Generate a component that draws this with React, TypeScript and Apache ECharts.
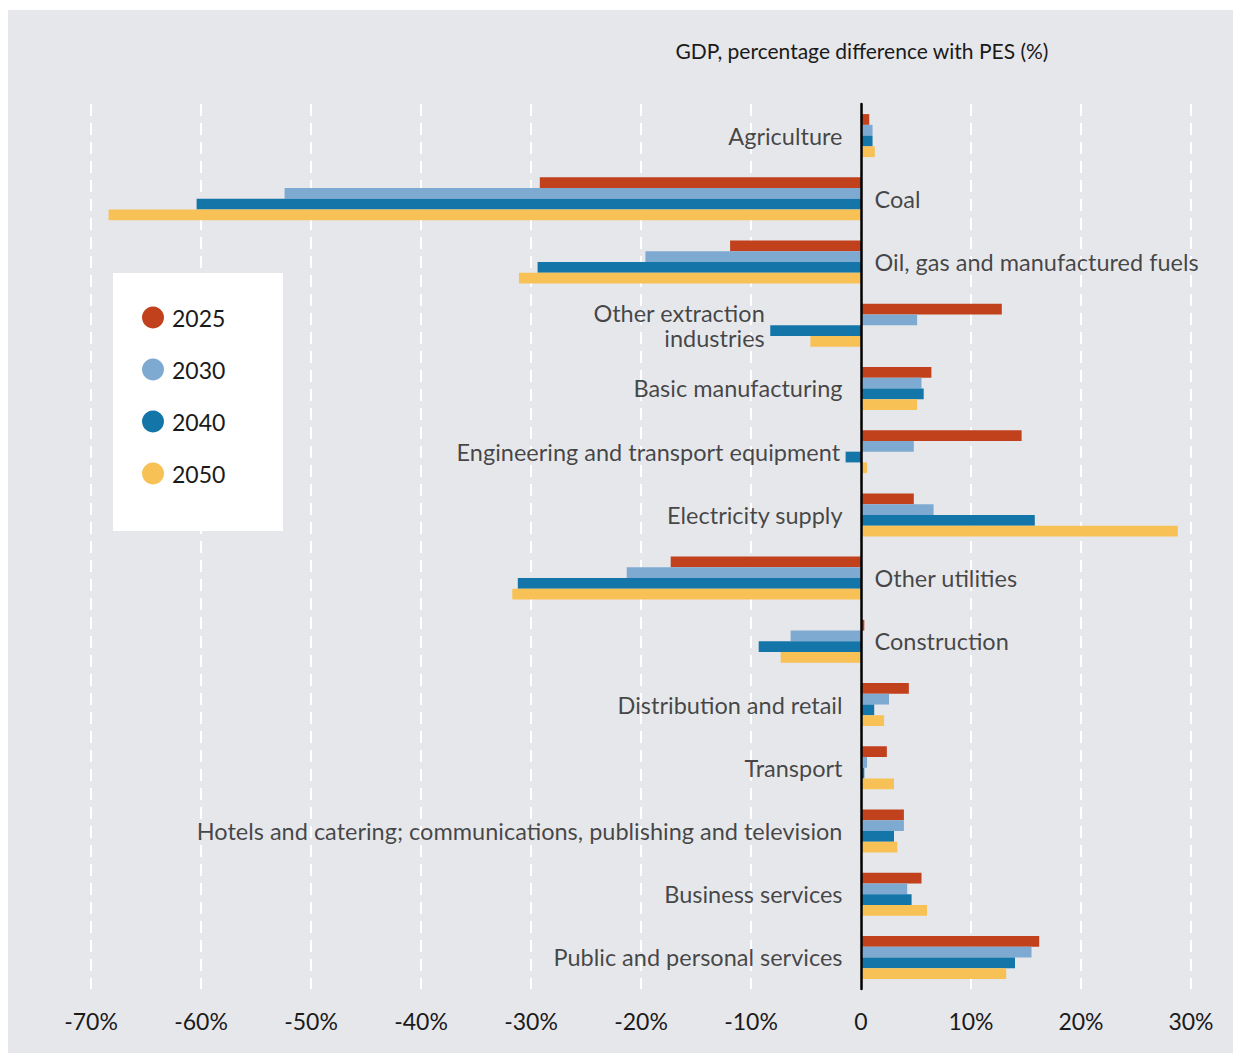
import React, { useEffect, useRef } from "react";
import * as echarts from "echarts";

const categories = [
  "Agriculture",
  "Coal",
  "Oil, gas and manufactured fuels",
  "Other extraction\nindustries",
  "Basic manufacturing",
  "Engineering and transport equipment",
  "Electricity supply",
  "Other utilities",
  "Construction",
  "Distribution and retail",
  "Transport",
  "Hotels and catering; communications, publishing and television",
  "Business services",
  "Public and personal services",
];

const seriesNames = ["2025", "2030", "2040", "2050"];

const v2025 = [0.75, -29.2, -11.9, 12.8, 6.4, 14.6, 4.8, -17.3, 0.3, 4.35, 2.35, 3.9, 5.5, 16.2];
const v2030 = [1.05, -52.4, -19.6, 5.1, 5.5, 4.8, 6.6, -21.3, -6.4, 2.55, 0.55, 3.9, 4.2, 15.5];
const v2040 = [1.05, -60.4, -29.4, -8.25, 5.7, -1.4, 15.8, -31.2, -9.3, 1.2, 0.3, 3.0, 4.6, 14.0];
const v2050 = [1.25, -68.4, -31.1, -4.6, 5.1, 0.55, 28.8, -31.7, -7.3, 2.1, 3.0, 3.3, 6.0, 13.2];

const seriesValues = [v2025, v2030, v2040, v2050];
const colors = ["#c0411c", "#7eaad2", "#1476a8", "#f8c155"];

const xMin = -70;
const xMax = 30;
const xStep = 10;

const titleText = "GDP, percentage difference with PES (%)";
const FONT = "Lato, 'Open Sans', sans-serif";
const BG = "#e6e7eb";
const TEXT = "#1a1a1a";

export default function App() {
  const ref = useRef<HTMLDivElement>(null);

  useEffect(() => {
    if (!ref.current) return;
    const chart = echarts.init(ref.current, undefined, { renderer: "svg" });

    const sums = categories.map((_, i) =>
      seriesValues.reduce((s, arr) => s + arr[i], 0)
    );
    const mins = categories.map((_, i) =>
      Math.min(0, ...seriesValues.map((arr) => arr[i]))
    );

    const barSeries = seriesNames.map((name, k) => ({
      name,
      type: "bar",
      data: seriesValues[k],
      barGap: "0%",
      barCategoryGap: "32%",
      itemStyle: { color: colors[k] },
      silent: true,
    }));

    const labelSeries = {
      type: "scatter",
      name: "labels",
      silent: true,
      symbolSize: 1,
      itemStyle: { color: "rgba(0,0,0,0)" },
      z: 5,
      data: categories.map((c, i) => {
        const side = sums[i] < 0 ? "right" : "left";
        const anchor = side === "left" ? mins[i] : 0;
        const distance = side === "right" ? 13 : anchor < 0 ? 5 : 18;
        return {
          value: [anchor, c],
          label: {
            show: true,
            position: side,
            distance,
            formatter: c,
            color: TEXT,
            fontSize: 23.5,
            lineHeight: 25,
            fontFamily: FONT,
          },
        };
      }),
    };

    chart.setOption({
      animation: false,
      backgroundColor: BG,
      textStyle: { fontFamily: FONT },
      title: {
        text: titleText,
        left: 854,
        top: 30,
        padding: 0,
        textAlign: "center",
        textStyle: { fontSize: 21, fontWeight: "normal", color: TEXT, fontFamily: FONT },
      },
      graphic: [
        {
          type: "rect",
          left: 105,
          top: 263,
          shape: { width: 170, height: 258 },
          style: { fill: "#ffffff" },
          z: 1,
        },
      ],
      legend: {
        data: seriesNames,
        orient: "vertical",
        left: 134,
        top: 296,
        padding: 0,
        icon: "circle",
        itemWidth: 22,
        itemHeight: 22,
        itemGap: 29,
        z: 5,
        textStyle: {
          fontSize: 23,
          lineHeight: 22,
          color: TEXT,
          fontFamily: FONT,
          padding: [0, 0, 0, 3],
        },
      },
      grid: { left: 83, right: 42, top: 94, bottom: 64, containLabel: false },
      xAxis: {
        type: "value",
        min: xMin,
        max: xMax,
        interval: xStep,
        axisLine: { show: false },
        axisTick: { show: false },
        axisLabel: {
          margin: 20,
          fontSize: 23,
          color: TEXT,
          fontFamily: FONT,
          formatter: (v: number) => (v === 0 ? "0" : v + "%"),
        },
        splitLine: {
          show: true,
          lineStyle: { color: "#ffffff", width: 2, type: [12, 7] },
        },
      },
      yAxis: {
        type: "category",
        data: categories,
        inverse: true,
        z: 4,
        axisLine: { show: true, onZero: true, lineStyle: { color: "#000000", width: 2.5 } },
        axisTick: { show: false },
        axisLabel: { show: false },
        splitLine: { show: false },
      },
      series: [...barSeries, labelSeries],
    });

    return () => chart.dispose();
  }, []);

  return (
    <div
      ref={ref}
      style={{
        position: "absolute",
        left: 8,
        top: 10,
        width: 1225,
        height: 1043,
        background: BG,
      }}
    />
  );
}
